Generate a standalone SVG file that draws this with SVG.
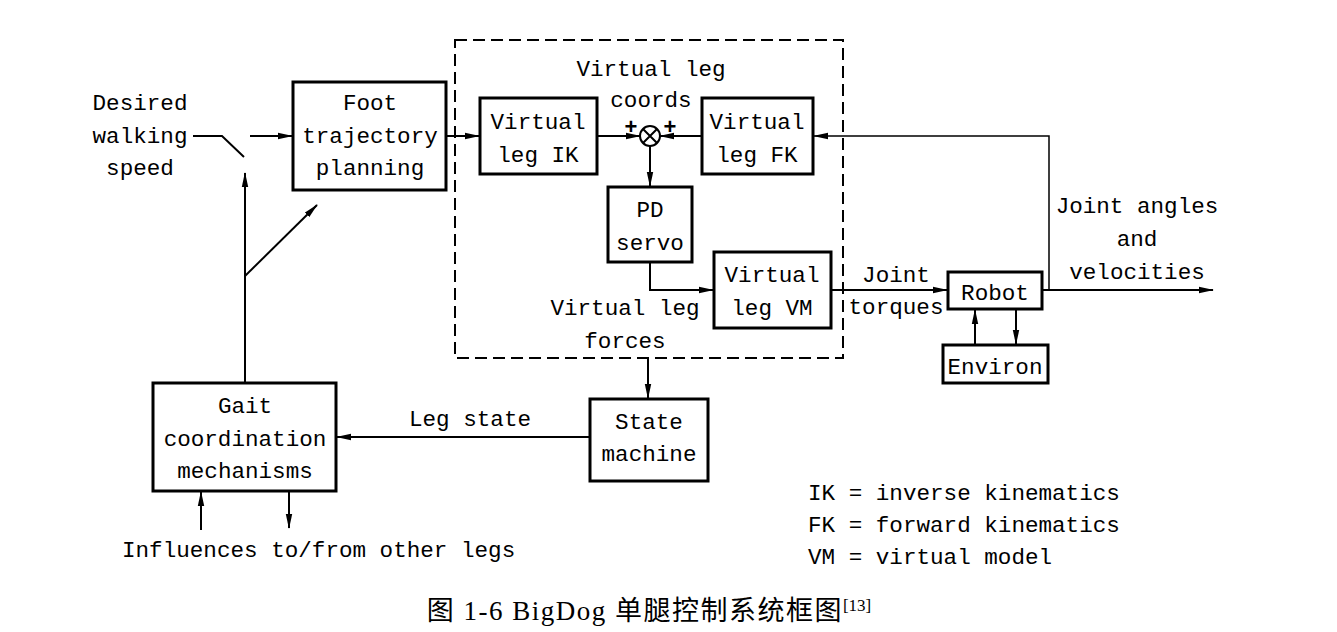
<svg xmlns="http://www.w3.org/2000/svg" width="1337" height="632" viewBox="0 0 1337 632">
<style>
.bx{fill:#fff;stroke:#000;stroke-width:3}
.t{font-family:"Liberation Mono","DejaVu Sans Mono",monospace;font-size:22.6px;fill:#000;text-anchor:middle}
.l{text-anchor:start}
.c{fill:none;stroke:#000;stroke-width:2}
.a{marker-end:url(#ah)}
.cap{font-family:"Liberation Serif","Noto Sans CJK SC",serif;font-size:27px;letter-spacing:1.5px;fill:#000;text-anchor:middle}
</style>
<defs>
<marker id="ah" markerWidth="15" markerHeight="8" refX="14" refY="4" orient="auto" markerUnits="userSpaceOnUse">
<path d="M0,0.8 L15,4 L0,7.2 z" fill="#000"/>
</marker>
</defs>
<rect width="1337" height="632" fill="#fff"/>

<g id="connectors">
<path class="c" d="M193,136 H222 L244,157"/>
<path class="c a" d="M250,136 H292"/>
<path class="c a" d="M245,383 V173"/>
<path class="c a" d="M245,276 L317,205"/>
<path class="c a" d="M446,136 H479"/>
<path class="c a" d="M597,136 H640"/>
<path class="c a" d="M702,136 H660"/>
<path class="c a" d="M650,146 V186"/>
<path class="c a" d="M650,262 V290 H713"/>
<path class="c a" d="M831,290 H947"/>
<path class="c a" d="M1042,290 H1213"/>
<path class="c a" d="M1049,290 V136 H814" style="stroke-width:1.5"/>
<path class="c a" d="M975,345 V310"/>
<path class="c a" d="M1016,309 V344"/>
<path class="c a" d="M648,358 V398"/>
<path class="c a" d="M590,437 H337"/>
<path class="c a" d="M201,530 V492"/>
<path class="c a" d="M289,492 V528"/>
</g>

<g id="controller-boundary">
<rect x="455" y="40" width="388" height="318" fill="none" stroke="#000" stroke-width="2" stroke-dasharray="12 6"/>
</g>

<g id="desired-speed">
<text class="t" x="140" y="110">Desired</text>
<text class="t" x="140" y="143">walking</text>
<text class="t" x="140" y="175">speed</text>
</g>

<g id="foot-trajectory">
<rect class="bx" x="293" y="82" width="153" height="108"/>
<text class="t" x="370" y="110">Foot</text>
<text class="t" x="370" y="143">trajectory</text>
<text class="t" x="370" y="175">planning</text>
</g>

<g id="virtual-leg-coords-label">
<text class="t" x="651" y="76">Virtual leg</text>
<text class="t" x="651" y="107">coords</text>
</g>

<g id="virtual-leg-ik">
<rect class="bx" x="480" y="98" width="117" height="76"/>
<text class="t" x="538" y="129">Virtual</text>
<text class="t" x="538" y="162">leg IK</text>
</g>

<g id="summing-junction">
<circle cx="650" cy="136" r="10" fill="#fff" stroke="#000" stroke-width="2"/>
<path d="M643,129 L657,143 M657,129 L643,143" stroke="#000" stroke-width="2"/>
<text x="631" y="134" font-family="Liberation Sans,sans-serif" font-size="22" font-weight="bold" text-anchor="middle">+</text>
<text x="670" y="134" font-family="Liberation Sans,sans-serif" font-size="22" font-weight="bold" text-anchor="middle">+</text>
</g>

<g id="virtual-leg-fk">
<rect class="bx" x="702" y="98" width="111" height="76"/>
<text class="t" x="757" y="129">Virtual</text>
<text class="t" x="757" y="162">leg FK</text>
</g>

<g id="pd-servo">
<rect class="bx" x="608" y="187" width="84" height="75"/>
<text class="t" x="650" y="217">PD</text>
<text class="t" x="650" y="250">servo</text>
</g>

<g id="virtual-leg-vm">
<rect class="bx" x="714" y="252" width="117" height="76"/>
<text class="t" x="772" y="282">Virtual</text>
<text class="t" x="772" y="315">leg VM</text>
</g>

<g id="virtual-leg-forces-label">
<text class="t" x="625" y="315">Virtual leg</text>
<text class="t" x="625" y="348">forces</text>
</g>

<g id="joint-torques-label">
<text class="t" x="896" y="282">Joint</text>
<text class="t" x="896" y="314">torques</text>
</g>

<g id="robot">
<rect class="bx" x="948" y="272" width="94" height="37"/>
<text class="t" x="995" y="300">Robot</text>
</g>

<g id="environ">
<rect class="bx" x="943" y="345" width="105" height="38"/>
<text class="t" x="995" y="374">Environ</text>
</g>

<g id="joint-angles-label">
<text class="t" x="1137" y="213">Joint angles</text>
<text class="t" x="1137" y="246">and</text>
<text class="t" x="1137" y="279">velocities</text>
</g>

<g id="state-machine">
<rect class="bx" x="590" y="399" width="118" height="82"/>
<text class="t" x="649" y="429">State</text>
<text class="t" x="649" y="461">machine</text>
</g>

<g id="leg-state-label">
<text class="t" x="470" y="426">Leg state</text>
</g>

<g id="gait-coordination">
<rect class="bx" x="153" y="383" width="183" height="108"/>
<text class="t" x="245" y="413">Gait</text>
<text class="t" x="245" y="446">coordination</text>
<text class="t" x="245" y="478">mechanisms</text>
</g>

<g id="influences-label">
<text class="t l" x="122" y="557">Influences to/from other legs</text>
</g>

<g id="legend">
<text class="t l" x="808" y="500">IK = inverse kinematics</text>
<text class="t l" x="808" y="532">FK = forward kinematics</text>
<text class="t l" x="808" y="564">VM = virtual model</text>
</g>

<g id="caption">
<text class="cap" x="649" y="620">图 1-6 BigDog 单腿控制系统框图<tspan font-size="17" dy="-9" letter-spacing="0">[13]</tspan></text>
</g>
</svg>
